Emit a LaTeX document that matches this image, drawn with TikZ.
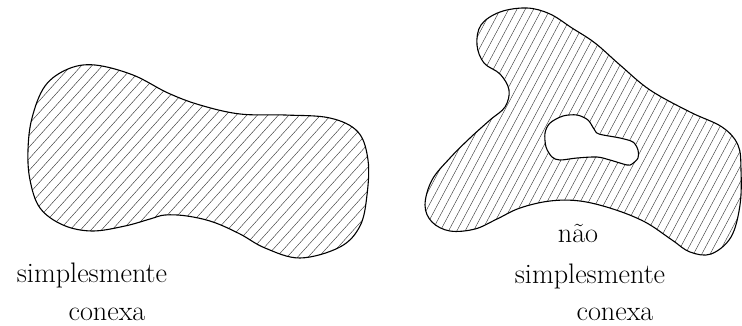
\documentclass[tikz,border=0pt]{standalone}
\begin{document}
\begin{tikzpicture}[x=1pt,y=-1pt,
  outline/.style={line width=1.1pt, line join=round},
  hatch/.style={line width=0.42pt, black!80},
  lbl/.style={anchor=base, inner sep=0pt, font=\fontsize{28.2}{34}\selectfont}]
\useasboundingbox (0,0) rectangle (742,325);
% left region: simply connected
\begin{scope}
  \clip plot[smooth cycle, tension=0.6] coordinates {(28,150) (32,118) (45,86) (68,69) (95,65) (133,75) (168,93) (200,105) (240,114) (285,115) (330,118) (358,132) (368,160) (367,195) (360,226) (340,247) (300,258) (265,248) (240,234) (213,222) (187,216) (165,215) (150,219) (125,226) (92,231) (63,225) (40,208) (30,180)};
  \foreach \a in {-260,-249.5,...,400} {
    \draw[hatch] (\a,270) -- ++(243,-270);
  }
\end{scope}
\draw[outline] plot[smooth cycle, tension=0.6] coordinates {(28,150) (32,118) (45,86) (68,69) (95,65) (133,75) (168,93) (200,105) (240,114) (285,115) (330,118) (358,132) (368,160) (367,195) (360,226) (340,247) (300,258) (265,248) (240,234) (213,222) (187,216) (165,215) (150,219) (125,226) (92,231) (63,225) (40,208) (30,180)};
% right region: with a hole
\begin{scope}[even odd rule]
  \clip plot[smooth cycle, tension=0.6] coordinates {(500,12) (527,8) (550,14) (572,28) (595,43) (620,65) (650,90) (690,112) (722,127) (738,145) (741,170) (740,205) (731,237) (711,254) (690,252) (672,240) (645,222) (613,209) (580,201) (550,201) (520,208) (497,219) (475,229) (450,231) (432,222) (425,205) (432,180) (450,158) (470,138) (490,120) (505,107) (509,90) (500,74) (484,63) (477,45) (481,25)}
        plot[smooth cycle, tension=0.5] coordinates {(545,133) (550,123) (563,116) (577,115) (588,120) (594,129) (599,134) (620,138) (633,142) (638,150) (638,158) (632,164) (627,165) (610,160) (597,157) (577,158) (560,160) (552,157) (546,147)};
  \foreach \a in {270,278.3,...,770} {
    \draw[hatch] (\a,270) -- ++(144,-270);
  }
\end{scope}
\draw[outline] plot[smooth cycle, tension=0.6] coordinates {(500,12) (527,8) (550,14) (572,28) (595,43) (620,65) (650,90) (690,112) (722,127) (738,145) (741,170) (740,205) (731,237) (711,254) (690,252) (672,240) (645,222) (613,209) (580,201) (550,201) (520,208) (497,219) (475,229) (450,231) (432,222) (425,205) (432,180) (450,158) (470,138) (490,120) (505,107) (509,90) (500,74) (484,63) (477,45) (481,25)};
\draw[outline] plot[smooth cycle, tension=0.5] coordinates {(545,133) (550,123) (563,116) (577,115) (588,120) (594,129) (599,134) (620,138) (633,142) (638,150) (638,158) (632,164) (627,165) (610,160) (597,157) (577,158) (560,160) (552,157) (546,147)};
% labels
\node[lbl] (l1) at (92,282) {simplesmente};
\node[lbl] (l2) at (107,320.5) {conexa};
\node[lbl] (r0) at (578,242) {não};
\node[lbl] (r1) at (590,283) {simplesmente};
\node[lbl] (r2) at (615,320.5) {conexa};
\end{tikzpicture}
\end{document}
